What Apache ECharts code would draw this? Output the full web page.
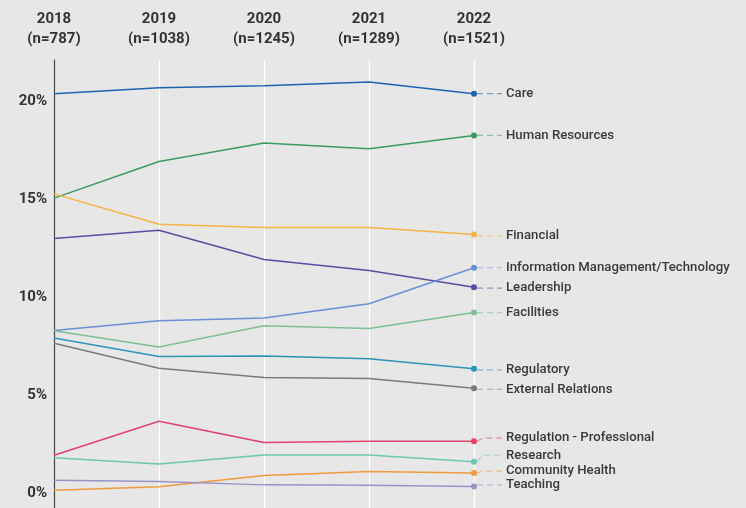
<!DOCTYPE html>
<html>
<head>
<meta charset="utf-8">
<title>Concern categories by year</title>
<script src="https://cdn.jsdelivr.net/npm/echarts@6/dist/echarts.min.js"></script>
<style>
  html, body { margin: 0; padding: 0; background: #e6e7e6; }
  #chart { width: 746px; height: 508px; }
</style>
</head>
<body>
<div id="chart"></div>
<script>
// Survey years and respondent counts shown in the header
const years = ['2018', '2019', '2020', '2021', '2022'];
const respondents = [787, 1038, 1245, 1289, 1521];

// Share of responses (%) per category, one value per year
const care          = [20.4, 20.7, 20.8, 21.0, 20.4];
const humanRes      = [15.07, 16.94, 17.89, 17.59, 18.27];
const financial     = [15.29, 13.74, 13.57, 13.57, 13.21];
const leadership    = [13.01, 13.43, 11.94, 11.38, 10.53];
const infoMgmt      = [8.32, 8.81, 8.96, 9.68, 11.52];
const facilities    = [8.30, 7.47, 8.56, 8.42, 9.23];
const regulatory    = [7.93, 6.99, 7.02, 6.87, 6.36];
const externalRel   = [7.67, 6.39, 5.92, 5.87, 5.37];
const regProf       = [1.95, 3.69, 2.60, 2.67, 2.67];
const research      = [1.82, 1.50, 1.97, 1.97, 1.62];
const communityHlth = [0.17, 0.34, 0.92, 1.12, 1.04];
const teaching      = [0.68, 0.61, 0.44, 0.42, 0.36];

// Y axis tick labels
const yTicks = [0, 5, 10, 15, 20];

const categories = [
  { name: 'Care',                              data: care,          color: '#1f63b0', dy: 0 },
  { name: 'Human Resources',                   data: humanRes,      color: '#3b9a62', dy: 0 },
  { name: 'Financial',                         data: financial,     color: '#f5b445', dy: 1 },
  { name: 'Leadership',                        data: leadership,    color: '#5b4ba1', dy: 1 },
  { name: 'Information Management/Technology', data: infoMgmt,      color: '#6b8fd6', dy: 0 },
  { name: 'Facilities',                        data: facilities,    color: '#80bf95', dy: 0 },
  { name: 'Regulatory',                        data: regulatory,    color: '#2a95b6', dy: 1 },
  { name: 'External Relations',                data: externalRel,   color: '#7a7a7a', dy: 1 },
  { name: 'Regulation - Professional',         data: regProf,       color: '#e2426c', dy: -3 },
  { name: 'Research',                          data: research,      color: '#6cc6b2', dy: -6.5 },
  { name: 'Community Health',                  data: communityHlth, color: '#ef9a3d', dy: -2 },
  { name: 'Teaching',                          data: teaching,      color: '#9a94c6', dy: -1.5 }
];

const lastIdx = years.length - 1;
const FONT = 'Roboto, "Noto Sans", sans-serif';

function fade(hex, a) {
  const n = parseInt(hex.slice(1), 16);
  return 'rgba(' + (n >> 16) + ',' + ((n >> 8) & 255) + ',' + (n & 255) + ',' + a + ')';
}

const lineSeries = categories.map(c => ({
  name: c.name,
  type: 'line',
  data: c.data,
  symbol: 'circle',
  symbolSize: (v, p) => (p.dataIndex === lastIdx ? 6 : 0),
  lineStyle: { width: 1.5, color: c.color },
  itemStyle: { color: c.color },
  emphasis: { disabled: true },
  silent: true,
  z: 3
}));

// End labels with dashed leader lines, anchored at each category's final value
const labelSeries = {
  type: 'custom',
  coordinateSystem: 'cartesian2d',
  clip: false,
  silent: true,
  z: 4,
  data: categories.map((c, i) => [lastIdx, c.data[lastIdx], i]),
  encode: { x: 0, y: 1 },
  renderItem: function (params, api) {
    const c = categories[api.value(2)];
    const pt = api.coord([api.value(0), api.value(1)]);
    const ly = pt[1] + c.dy;
    const bend = Math.abs(c.dy) > 1.5;
    const pts = bend
      ? [[pt[0] + 3, pt[1]], [pt[0] + 9, ly], [pt[0] + 28, ly]]
      : [[pt[0] + 3, ly], [pt[0] + 28, ly]];
    return {
      type: 'group',
      children: [
        {
          type: 'polyline',
          shape: { points: pts },
          style: { stroke: fade(c.color, 0.55), lineWidth: 1.2, lineDash: [6, 4], fill: null }
        },
        {
          type: 'text',
          x: pt[0] + 32,
          y: ly,
          style: {
            text: c.name,
            fill: '#3a3a3a',
            font: '500 13.2px ' + FONT,
            verticalAlign: 'middle',
            align: 'left'
          }
        }
      ]
    };
  }
};

const chart = echarts.init(document.getElementById('chart'), null, { renderer: 'canvas' });
chart.setOption({
  backgroundColor: '#e6e7e6',
  animation: false,
  grid: { left: 54, right: 272, top: 60, bottom: 0, containLabel: false },
  xAxis: {
    type: 'category',
    position: 'top',
    data: years,
    boundaryGap: false,
    axisLine: { show: false },
    axisTick: { show: false },
    splitLine: { show: true, lineStyle: { color: '#ffffff', width: 1.2 } },
    axisLabel: {
      margin: 11,
      interval: 0,
      formatter: (v, i) => '{y|' + v + '}\n{n|(n=' + respondents[i] + ')}',
      rich: {
        y: { fontFamily: FONT, fontSize: 15, fontWeight: 'bold', color: '#333', lineHeight: 20 },
        n: { fontFamily: FONT, fontSize: 15, fontWeight: 'bold', color: '#333', lineHeight: 20 }
      }
    }
  },
  yAxis: {
    type: 'value',
    min: -0.74,
    max: 22.12,
    axisLine: { show: true, lineStyle: { color: '#444', width: 1.2 } },
    axisTick: { show: false },
    splitLine: { show: false },
    axisLabel: {
      customValues: yTicks,
      margin: 7,
      formatter: v => v + '%',
      fontFamily: FONT,
      fontSize: 15,
      fontWeight: 'bold',
      color: '#333'
    }
  },
  series: lineSeries.concat([labelSeries])
});
</script>
</body>
</html>
